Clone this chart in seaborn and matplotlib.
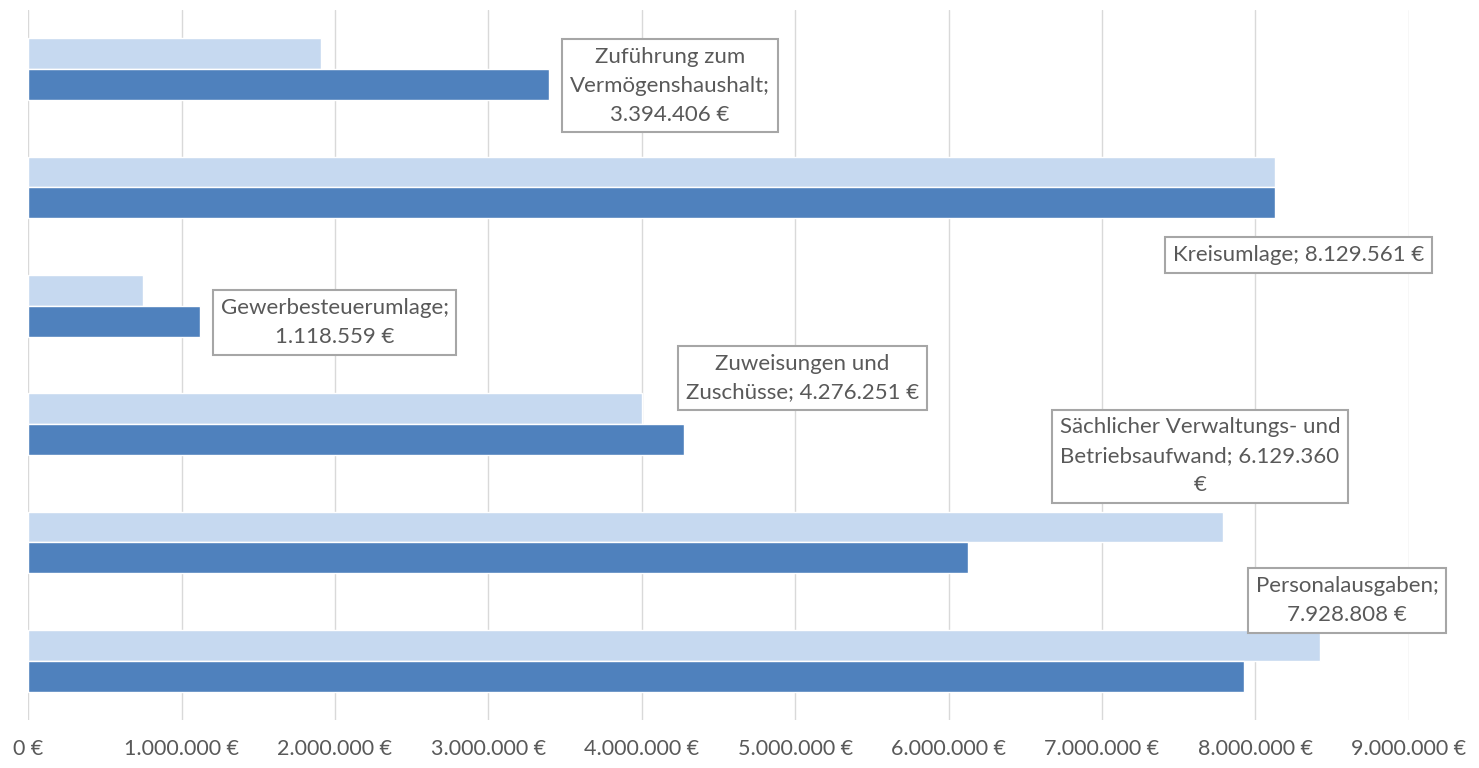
import pandas as pd
import matplotlib
matplotlib.use("Agg")
import matplotlib.pyplot as plt
import seaborn as sns

# categories top to bottom
categories = [
    "Zuführung zum Vermögenshaushalt",
    "Kreisumlage",
    "Gewerbesteuerumlage",
    "Zuweisungen und Zuschüsse",
    "Sächlicher Verwaltungs- und Betriebsaufwand",
    "Personalausgaben",
]
series = ["Vorjahr", "Aktuell"]
values_prev = [1910000, 8130000, 750000, 4000000, 7790000, 8420000]
values_curr = [3394406, 8129561, 1118559, 4276251, 6129360, 7928808]

# label texts as shown in the boxes (line breaks as in the picture)
label_texts = [
    "Zuführung zum\nVermögenshaushalt;\n3.394.406 €",
    "Kreisumlage; 8.129.561 €",
    "Gewerbesteuerumlage;\n1.118.559 €",
    "Zuweisungen und\nZuschüsse; 4.276.251 €",
    "Sächlicher Verwaltungs- und\nBetriebsaufwand; 6.129.360\n€",
    "Personalausgaben;\n7.928.808 €",
]
# box centre offsets from the end of the dark bar (x in €, y in category units)
label_dx = [790000, 150000, 880000, 770000, 1510000, 670000]
label_dy = [0.14, 0.57, 0.14, -0.39, -0.73, -0.51]

df = pd.DataFrame({
    "Kategorie": categories * 2,
    "Reihe": [series[0]] * len(categories) + [series[1]] * len(categories),
    "Betrag": values_prev + values_curr,
})

sns.set_style("white")
plt.rcParams["font.family"] = ["Lato", "DejaVu Sans"]

fig = plt.figure(figsize=(14.79, 7.68), dpi=100)
ax = fig.add_axes([0.019, 0.0625, 0.9335, 0.9245])

sns.barplot(data=df, y="Kategorie", x="Betrag", hue="Reihe", order=categories,
            hue_order=series, palette=["#C6D9F0", "#4F81BD"], orient="h",
            width=0.52, gap=0, saturation=1, ax=ax, legend=False)

ax.set_xlim(0, 9000000)
ax.set_xticks(range(0, 9000001, 1000000))
ax.set_xticklabels([f"{v:,} €".replace(",", ".") for v in range(0, 9000001, 1000000)],
                   fontsize=15.5, color="#595959")
ax.tick_params(axis="x", length=0, pad=14)
ax.set_yticks([])
ax.set_xlabel("")
ax.set_ylabel("")
ax.grid(axis="x", color="#D9D9D9", linewidth=1)
ax.set_axisbelow(True)
for s in ax.spines.values():
    s.set_visible(False)

for i, txt in enumerate(label_texts):
    ax.text(values_curr[i] + label_dx[i], i + label_dy[i], txt,
            ha="center", va="center", fontsize=16, color="#595959",
            linespacing=1.55,
            bbox=dict(boxstyle="square,pad=0.35", facecolor="white",
                      edgecolor="#A6A6A6", linewidth=1.5))

fig.savefig("out.png", dpi=100)
